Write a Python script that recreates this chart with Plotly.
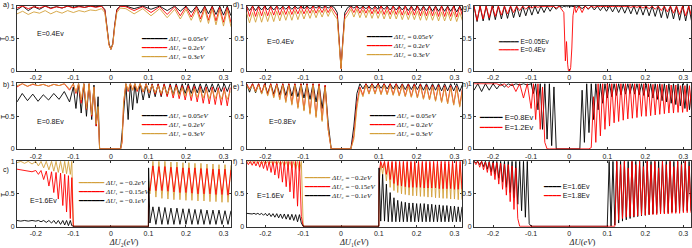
import plotly.graph_objects as go

W, H = 692, 248
BLACK, RED, GOLD = "#000000", "#ff0000", "#d4a03a"

X_RANGE = [-0.25, 0.32]
Y_RANGE = [-0.006, 1.006]
X_TICKS = [-0.2, -0.1, 0.0, 0.1, 0.2, 0.3]
X_TICK_TEXT = ["-0.2", "-0.1", "0", "0.1", "0.2", "0.3"]
Y_TICKS = [0.0, 0.5, 1.0]
Y_TICK_TEXT = ["0", "0.5", "1"]

# ---------------- panel a : E=0.4 eV, varying dU1 ----------------
A_X = [-0.25, -0.235, -0.22, -0.205, -0.19, -0.175, -0.16, -0.145, -0.13, -0.115, -0.10, -0.085, -0.07, -0.055, -0.04, -0.025,
       -0.016, -0.01, -0.005, 0.0, 0.005, 0.01, 0.016,
       0.025, 0.04, 0.062, 0.085, 0.107, 0.13, 0.15, 0.17, 0.185, 0.2, 0.214, 0.228, 0.239, 0.25, 0.26, 0.27, 0.28, 0.29, 0.30, 0.31, 0.32]
A_BLACK = [0.94, 1.0, 0.93, 0.99, 0.95, 1.0, 0.97, 0.99, 0.97, 1.0, 0.98, 1.0, 0.98, 1.0, 0.99, 1.0,
           0.95, 0.7, 0.42, 0.33, 0.42, 0.7, 0.95,
           1.0, 1.0, 0.96, 1.0, 0.95, 1.0, 0.93, 1.0, 0.92, 1.0, 0.9, 1.0, 0.89, 1.0, 0.88, 1.0, 0.87, 1.0, 0.86, 1.0, 0.85]
A_RED = [0.97, 1.0, 0.96, 0.99, 0.97, 1.0, 0.96, 0.99, 0.97, 1.0, 0.97, 0.99, 0.98, 1.0, 0.98, 1.0,
         0.93, 0.68, 0.4, 0.33, 0.4, 0.68, 0.93,
         1.0, 0.99, 0.93, 0.99, 0.9, 0.99, 0.87, 0.99, 0.85, 0.99, 0.83, 0.99, 0.8, 0.99, 0.78, 0.99, 0.77, 0.98, 0.75, 0.98, 0.74]
A_GOLD = [0.88, 0.92, 0.87, 0.91, 0.89, 0.93, 0.88, 0.92, 0.89, 0.93, 0.9, 0.93, 0.91, 0.94, 0.93, 0.96,
          0.9, 0.66, 0.4, 0.33, 0.4, 0.66, 0.9,
          0.97, 0.96, 0.88, 0.96, 0.85, 0.96, 0.82, 0.95, 0.8, 0.95, 0.78, 0.95, 0.75, 0.95, 0.73, 0.95, 0.71, 0.94, 0.69, 0.94, 0.68]

# ---------------- panel b : E=0.8 eV, varying dU1 ----------------
B_X = [-0.25, -0.236, -0.222, -0.208, -0.194, -0.18, -0.166, -0.152, -0.138, -0.124, -0.11,
       -0.1, -0.093, -0.086, -0.079, -0.072, -0.065, -0.058, -0.051, -0.045, -0.039, -0.034, -0.03,
       -0.026, 0.026,
       0.03, 0.034, 0.04, 0.046, 0.052, 0.058, 0.064, 0.07, 0.078, 0.086, 0.094, 0.102, 0.11, 0.118, 0.126, 0.134,
       0.142, 0.15, 0.158, 0.166, 0.174, 0.182, 0.19, 0.198, 0.206, 0.214, 0.222, 0.23, 0.238, 0.246, 0.254, 0.262,
       0.27, 0.278, 0.286, 0.294, 0.302, 0.31, 0.318]
B_BLACK = [0.72, 0.85, 0.74, 0.84, 0.73, 0.83, 0.75, 0.85, 0.76, 0.88, 0.72,
           0.95, 0.62, 1.0, 0.55, 1.0, 0.5, 1.0, 0.45, 0.98, 0.35, 0.8, 0.0,
           0.0, 0.0,
           0.25, 0.5, 1.0, 0.45, 1.0, 0.6, 1.0, 0.7, 1.0, 0.75, 1.0, 0.78, 1.0, 0.8, 1.0, 0.8, 1.0, 0.82, 1.0, 0.83,
           1.0, 0.84, 1.0, 0.85, 1.0, 0.85, 1.0, 0.86, 1.0, 0.86, 1.0, 0.87, 1.0, 0.87, 1.0, 0.88, 1.0, 0.88, 1.0]
B_RED = [0.95, 1.0, 0.96, 0.99, 0.97, 0.99, 0.96, 0.99, 0.97, 1.0, 0.9,
         1.0, 0.85, 1.0, 0.7, 1.0, 0.6, 1.0, 0.5, 0.95, 0.35, 0.6, 0.0,
         0.0, 0.0,
         0.1, 0.7, 1.0, 0.88, 1.0, 0.9, 1.0, 0.88, 1.0, 0.87, 1.0, 0.86, 0.99, 0.84, 0.99, 0.82, 0.99, 0.8, 0.98, 0.78,
         0.98, 0.77, 0.97, 0.75, 0.97, 0.74, 0.96, 0.72, 0.96, 0.7, 0.95, 0.69, 0.95, 0.68, 0.94, 0.67, 0.94, 0.66, 0.94]
B_GOLD = [0.97, 1.0, 0.96, 1.0, 0.97, 0.99, 0.96, 0.99, 0.97, 1.0, 0.92,
          1.0, 0.87, 1.0, 0.75, 1.0, 0.62, 1.0, 0.52, 0.95, 0.38, 0.65, 0.0,
          0.0, 0.0,
          0.12, 0.72, 1.0, 0.9, 1.0, 0.9, 1.0, 0.9, 1.0, 0.88, 0.99, 0.87, 0.98, 0.86, 0.97, 0.85, 0.96, 0.84, 0.95, 0.83,
          0.95, 0.82, 0.94, 0.81, 0.93, 0.8, 0.92, 0.79, 0.92, 0.78, 0.91, 0.77, 0.9, 0.77, 0.9, 0.76, 0.89, 0.76, 0.88]

# ---------------- panel c : E=1.6 eV, negative dU1 ----------------
C_X = [-0.25, -0.24, -0.23, -0.22, -0.21, -0.2, -0.193, -0.186, -0.179, -0.172, -0.165, -0.158,
       -0.152, -0.146, -0.14, -0.134, -0.128, -0.123, -0.118, -0.113, -0.108, -0.104, -0.1,
       0.1, 0.1005, 0.104, 0.112, 0.12, 0.128, 0.136, 0.144, 0.152, 0.16, 0.168, 0.176, 0.184, 0.192, 0.2, 0.208,
       0.216, 0.224, 0.232, 0.24, 0.248, 0.256, 0.264, 0.272, 0.28, 0.288, 0.296, 0.304, 0.312, 0.32]
C_GOLD = [0.98, 1.0, 0.97, 1.0, 0.96, 1.0, 0.93, 1.0, 0.9, 1.0, 0.87, 1.0, 0.85, 1.0, 0.83, 1.0, 0.82, 1.0, 0.81, 1.0, 0.8, 1.0, 0.0,
          0.0, 0.7, 0.5, 1.0, 0.45, 1.0, 0.43, 1.0, 0.42, 0.99, 0.41, 0.99, 0.41, 0.98, 0.4, 0.98, 0.4, 0.97, 0.39,
          0.97, 0.39, 0.96, 0.38, 0.96, 0.38, 0.95, 0.37, 0.95, 0.37, 0.94]
C_RED = [0.88, 0.87, 0.87, 0.86, 0.84, 0.86, 0.8, 0.86, 0.72, 0.85, 0.62, 0.84, 0.52, 0.83, 0.42, 0.82, 0.32, 0.8, 0.22, 0.78, 0.12, 0.75, 0.0,
         0.0, 0.6, 0.55, 0.93, 0.55, 0.92, 0.55, 0.92, 0.54, 0.91, 0.53, 0.91, 0.52, 0.9, 0.52, 0.9, 0.51, 0.9, 0.5,
         0.89, 0.5, 0.89, 0.5, 0.88, 0.49, 0.88, 0.49, 0.88, 0.48, 0.87]
C_BLACK = [0.09, 0.08, 0.09, 0.08, 0.09, 0.08, 0.09, 0.07, 0.09, 0.06, 0.09, 0.05, 0.09, 0.04, 0.09, 0.03, 0.09, 0.02, 0.09, 0.01, 0.09, 0.01, 0.0,
           0.0, 0.9, 0.05, 0.3, 0.03, 0.3, 0.03, 0.29, 0.03, 0.28, 0.03, 0.28, 0.03, 0.27, 0.03, 0.27, 0.03, 0.26, 0.03,
           0.26, 0.03, 0.25, 0.03, 0.25, 0.03, 0.25, 0.03, 0.24, 0.03, 0.24]

# ---------------- shared dense sampling grids ----------------
DENSE_L = [-0.25, -0.242, -0.234, -0.226, -0.218, -0.21, -0.202, -0.194, -0.186, -0.178, -0.17, -0.162, -0.154, -0.146, -0.138,
           -0.13, -0.122, -0.114, -0.106, -0.098, -0.09, -0.082, -0.074, -0.066, -0.058, -0.05, -0.042, -0.034, -0.026, -0.018]
DENSE_R = [0.018, 0.026, 0.034, 0.042, 0.05, 0.058, 0.066, 0.074, 0.082, 0.09, 0.098, 0.106, 0.114, 0.122, 0.13, 0.138, 0.146,
           0.154, 0.162, 0.17, 0.178, 0.186, 0.194, 0.202, 0.21, 0.218, 0.226, 0.234, 0.242, 0.25, 0.258, 0.266, 0.274, 0.282,
           0.29, 0.298, 0.306, 0.314, 0.322]
FINE_L = [-0.25, -0.245, -0.24, -0.235, -0.23, -0.225, -0.22, -0.215, -0.21, -0.205, -0.2, -0.195, -0.19, -0.185, -0.18, -0.175,
          -0.17, -0.165, -0.16, -0.155, -0.15, -0.145, -0.14, -0.135, -0.13, -0.125, -0.12, -0.115, -0.11, -0.105, -0.1]
FINE_R = [0.1, 0.105, 0.11, 0.115, 0.12, 0.125, 0.13, 0.135, 0.14, 0.145, 0.15, 0.155, 0.16, 0.165, 0.17, 0.175, 0.18, 0.185,
          0.19, 0.195, 0.2, 0.205, 0.21, 0.215, 0.22, 0.225, 0.23, 0.235, 0.24, 0.245, 0.25, 0.255, 0.26, 0.265, 0.27, 0.275,
          0.28, 0.285, 0.29, 0.295, 0.3, 0.305, 0.31, 0.315, 0.32]

# ---------------- panel d : E=0.4 eV, varying dU2 ----------------
D_MID = [-0.01, -0.004, 0.0, 0.004, 0.01]
D_X = DENSE_L + D_MID + DENSE_R
D_BLACK = [1.0, 0.93, 1.0, 0.93, 1.0, 0.94, 1.0, 0.94, 1.0, 0.94, 1.0, 0.95, 1.0, 0.95, 1.0, 0.95, 1.0, 0.96, 1.0, 0.96,
           1.0, 0.96, 1.0, 0.97, 1.0, 0.97, 1.0, 0.97, 1.0, 0.98,
           0.9, 0.4, 0.04, 0.4, 0.9,
           0.98, 1.0, 0.97, 1.0, 0.96, 1.0, 0.96, 1.0, 0.95, 1.0, 0.95, 1.0, 0.95, 1.0, 0.94, 1.0, 0.94, 1.0, 0.94, 1.0,
           0.93, 1.0, 0.93, 1.0, 0.93, 1.0, 0.93, 1.0, 0.92, 1.0, 0.92, 1.0, 0.92, 1.0, 0.92, 1.0, 0.91, 1.0, 0.91]
D_RED = [1.0, 0.84, 1.0, 0.84, 0.99, 0.85, 1.0, 0.85, 0.99, 0.86, 1.0, 0.86, 0.99, 0.87, 1.0, 0.87, 0.99, 0.88, 1.0, 0.88,
         0.99, 0.89, 1.0, 0.89, 0.99, 0.9, 1.0, 0.9, 0.99, 0.92,
         0.85, 0.38, 0.03, 0.38, 0.85,
         0.92, 0.99, 0.9, 1.0, 0.89, 0.99, 0.89, 1.0, 0.88, 0.99, 0.88, 1.0, 0.87, 0.99, 0.87, 1.0, 0.87, 0.99, 0.86, 1.0,
         0.86, 0.99, 0.86, 1.0, 0.85, 0.99, 0.85, 1.0, 0.85, 0.99, 0.84, 1.0, 0.84, 0.99, 0.84, 1.0, 0.83, 0.99, 0.83]
D_GOLD = [0.9, 0.74, 0.9, 0.75, 0.91, 0.75, 0.91, 0.76, 0.91, 0.76, 0.92, 0.77, 0.92, 0.78, 0.92, 0.78, 0.93, 0.79, 0.93, 0.8,
          0.93, 0.81, 0.94, 0.82, 0.94, 0.83, 0.95, 0.84, 0.95, 0.86,
          0.8, 0.35, 0.03, 0.35, 0.8,
          0.86, 0.95, 0.83, 0.95, 0.82, 0.94, 0.82, 0.94, 0.81, 0.94, 0.81, 0.93, 0.8, 0.93, 0.8, 0.93, 0.8, 0.93, 0.79, 0.92,
          0.79, 0.92, 0.79, 0.92, 0.78, 0.92, 0.78, 0.92, 0.78, 0.91, 0.77, 0.91, 0.77, 0.91, 0.77, 0.91, 0.76, 0.9, 0.76]

# ---------------- panel e : E=0.8 eV, varying dU2 ----------------
E_X = DENSE_L + DENSE_R
E_BLACK = [1.0, 0.87, 1.0, 0.86, 1.0, 0.85, 1.0, 0.85, 1.0, 0.84, 1.0, 0.83, 1.0, 0.82, 1.0, 0.81, 1.0, 0.8, 1.0, 0.78,
           1.0, 0.76, 1.0, 0.72, 0.99, 0.62, 0.97, 0.4, 0.0, 0.0,
           0.0, 0.0, 0.35, 0.85, 1.0, 0.92, 1.0, 0.93, 1.0, 0.93, 1.0, 0.93, 1.0, 0.92, 1.0, 0.92, 1.0, 0.92, 1.0, 0.91,
           1.0, 0.91, 1.0, 0.91, 1.0, 0.9, 1.0, 0.9, 1.0, 0.9, 1.0, 0.89, 1.0, 0.89, 1.0, 0.89, 1.0, 0.88, 1.0]
E_RED = [1.0, 0.92, 1.0, 0.89, 1.0, 0.86, 1.0, 0.83, 1.0, 0.8, 1.0, 0.77, 1.0, 0.73, 1.0, 0.69, 1.0, 0.64, 1.0, 0.6,
         1.0, 0.55, 1.0, 0.5, 1.0, 0.44, 0.98, 0.3, 0.0, 0.0,
         0.0, 0.0, 0.2, 0.7, 0.95, 0.82, 1.0, 0.85, 1.0, 0.85, 1.0, 0.84, 1.0, 0.84, 1.0, 0.83, 1.0, 0.82, 0.99, 0.81,
         0.99, 0.8, 0.99, 0.79, 0.99, 0.77, 0.98, 0.76, 0.98, 0.74, 0.98, 0.72, 0.97, 0.7, 0.97, 0.68, 0.96, 0.66, 0.96]
E_GOLD = [0.98, 0.9, 0.98, 0.87, 0.98, 0.84, 0.98, 0.81, 0.98, 0.78, 0.98, 0.75, 0.98, 0.71, 0.98, 0.67, 0.98, 0.62, 0.98, 0.58,
          0.98, 0.53, 0.98, 0.48, 0.97, 0.42, 0.95, 0.3, 0.0, 0.0,
          0.0, 0.0, 0.15, 0.62, 0.92, 0.8, 0.98, 0.84, 0.98, 0.84, 0.98, 0.83, 0.98, 0.83, 0.97, 0.82, 0.97, 0.81, 0.97, 0.8,
          0.96, 0.79, 0.96, 0.78, 0.96, 0.76, 0.95, 0.75, 0.95, 0.73, 0.95, 0.71, 0.94, 0.69, 0.94, 0.67, 0.94, 0.64, 0.93]

# ---------------- panel f : E=1.6 eV, negative dU2 ----------------
F_X = FINE_L + [0.1, 0.1005] + FINE_R[1:]
F_GOLD = [0.98, 1.0, 0.97, 1.0, 0.97, 1.0, 0.97, 1.0, 0.96, 1.0, 0.96, 1.0, 0.96, 1.0, 0.95, 1.0, 0.95, 1.0, 0.94, 1.0,
          0.93, 1.0, 0.92, 1.0, 0.9, 1.0, 0.88, 1.0, 0.85, 1.0, 0.0,
          0.0, 0.6, 0.98, 0.8, 0.98, 0.7, 0.98, 0.6, 0.98, 0.55, 0.98, 0.52, 0.98, 0.5, 0.98, 0.49, 0.98, 0.48, 0.98, 0.47,
          0.98, 0.47, 0.97, 0.46, 0.97, 0.46, 0.97, 0.45, 0.97, 0.45, 0.97, 0.44, 0.96, 0.44, 0.96, 0.43, 0.96, 0.43,
          0.96, 0.42, 0.96, 0.42, 0.95, 0.41, 0.95, 0.41]
F_RED = [1.0, 0.95, 1.0, 0.94, 1.0, 0.93, 1.0, 0.91, 1.0, 0.89, 1.0, 0.86, 1.0, 0.83, 1.0, 0.79, 1.0, 0.74, 1.0, 0.68,
         1.0, 0.61, 1.0, 0.53, 1.0, 0.43, 1.0, 0.31, 1.0, 0.15, 0.0,
         0.0, 0.8, 1.0, 0.9, 1.0, 0.8, 1.0, 0.72, 1.0, 0.66, 1.0, 0.63, 1.0, 0.62, 1.0, 0.61, 1.0, 0.6, 1.0, 0.6,
         1.0, 0.6, 1.0, 0.6, 1.0, 0.59, 1.0, 0.59, 1.0, 0.59, 1.0, 0.59, 1.0, 0.58, 1.0, 0.58, 1.0, 0.58, 1.0, 0.58,
         1.0, 0.57, 1.0, 0.57, 1.0, 0.57]
F_BLACK = [0.2, 0.195, 0.2, 0.19, 0.2, 0.185, 0.2, 0.18, 0.2, 0.17, 0.2, 0.16, 0.2, 0.15, 0.195, 0.14, 0.195, 0.13, 0.19, 0.12,
           0.19, 0.11, 0.185, 0.1, 0.185, 0.09, 0.18, 0.07, 0.18, 0.05, 0.0,
           0.0, 0.9, 0.08, 0.8, 0.08, 0.65, 0.07, 0.52, 0.07, 0.44, 0.07, 0.4, 0.07, 0.38, 0.07, 0.37, 0.07, 0.36, 0.07, 0.36,
           0.07, 0.35, 0.07, 0.35, 0.07, 0.35, 0.07, 0.34, 0.07, 0.34, 0.07, 0.33, 0.07, 0.33, 0.07, 0.32, 0.07, 0.32,
           0.07, 0.31, 0.07, 0.31, 0.07, 0.3, 0.07, 0.3]

# ---------------- panel g : E=0.05 / 0.4 eV ----------------
G_MID = [-0.014, -0.01, -0.007, -0.004, -0.002, 0.0, 0.002, 0.004, 0.007, 0.01, 0.014]
G_X = DENSE_L + G_MID + DENSE_R
G_BLACK = [1.0, 0.76, 1.0, 0.77, 1.0, 0.78, 1.0, 0.79, 1.0, 0.8, 1.0, 0.81, 1.0, 0.82, 1.0, 0.83, 1.0, 0.85, 1.0, 0.86,
           1.0, 0.88, 1.0, 0.9, 1.0, 0.92, 1.0, 0.95, 1.0, 0.98,
           1.0, 0.99, 1.0, 0.99, 1.0, 0.99, 1.0, 0.99, 1.0, 0.99, 1.0,
           0.98, 1.0, 0.96, 1.0, 0.95, 1.0, 0.94, 1.0, 0.93, 1.0, 0.92, 1.0, 0.91, 1.0, 0.9, 1.0, 0.89, 1.0, 0.88,
           1.0, 0.87, 1.0, 0.86, 1.0, 0.85, 1.0, 0.84, 1.0, 0.82, 1.0, 0.81, 1.0, 0.8, 1.0, 0.78, 1.0, 0.77, 1.0, 0.75]
G_RED = [1.0, 0.78, 1.0, 0.8, 1.0, 0.82, 1.0, 0.84, 1.0, 0.86, 1.0, 0.88, 1.0, 0.9, 1.0, 0.93, 1.0, 0.95, 1.0, 0.97,
         1.0, 0.98, 1.0, 0.99, 1.0, 0.99, 1.0, 0.97, 1.0, 0.93,
         0.9, 0.15, 0.45, 0.1, 0.0, 0.0, 0.0, 0.05, 0.35, 0.85, 1.0,
         0.9, 1.0, 0.9, 1.0, 0.96, 1.0, 0.98, 1.0, 0.99, 1.0, 0.99, 1.0, 0.99, 1.0, 0.99, 1.0, 0.99, 1.0, 0.98,
         1.0, 0.98, 1.0, 0.97, 1.0, 0.96, 1.0, 0.95, 1.0, 0.93, 1.0, 0.91, 1.0, 0.89, 1.0, 0.87, 1.0, 0.85, 1.0, 0.83]

# ---------------- panel h : E=0.8 / 1.2 eV ----------------
H_X = [-0.25, -0.24, -0.23, -0.22, -0.21, -0.2, -0.19, -0.18, -0.17, -0.16, -0.15, -0.14, -0.13, -0.12, -0.11, -0.1,
       -0.094, -0.088, -0.082, -0.076, -0.07, -0.064, -0.058, -0.052, -0.046, -0.04, -0.034, -0.028,
       -0.02, 0.02,
       0.028, 0.034, 0.04, 0.046, 0.052, 0.058, 0.064, 0.07, 0.076, 0.082, 0.088, 0.094, 0.1,
       0.106, 0.112, 0.118, 0.124, 0.13, 0.136, 0.142, 0.148, 0.154, 0.16, 0.166, 0.172, 0.178, 0.184, 0.19, 0.196,
       0.202, 0.208, 0.214, 0.22, 0.226, 0.232, 0.238, 0.244, 0.25, 0.256, 0.262, 0.268, 0.274, 0.28, 0.286, 0.292,
       0.298, 0.304, 0.31, 0.316, 0.322]
H_BLACK = [0.9, 1.0, 0.88, 1.0, 0.9, 1.0, 0.92, 1.0, 0.95, 1.0, 0.97, 1.0, 0.98, 1.0, 0.98, 1.0,
           0.85, 1.0, 0.6, 1.0, 0.3, 1.0, 0.15, 1.0, 0.05, 0.95, 0.0, 0.0,
           0.0, 0.0,
           0.0, 0.9, 0.1, 1.0, 0.25, 1.0, 0.45, 1.0, 0.6, 1.0, 0.7, 1.0, 0.78,
           1.0, 0.8, 1.0, 0.82, 1.0, 0.83, 1.0, 0.84, 1.0, 0.85, 1.0, 0.84, 1.0, 0.83, 1.0, 0.82, 1.0, 0.8, 1.0, 0.78,
           1.0, 0.76, 1.0, 0.74, 1.0, 0.72, 1.0, 0.7, 1.0, 0.68, 1.0, 0.66, 1.0, 0.62, 1.0, 0.6, 0.95]
H_RED = [1.0, 1.0, 1.0, 0.99, 1.0, 0.99, 1.0, 0.97, 1.0, 0.94, 1.0, 0.88, 1.0, 0.78, 1.0, 0.62,
         1.0, 0.45, 1.0, 0.3, 0.95, 0.1, 0.0, 0.0, 0.0, 0.0, 0.0, 0.0,
         0.0, 0.0,
         0.0, 0.0, 0.0, 0.0, 0.0, 0.02, 0.8, 0.1, 1.0, 0.2, 1.0, 0.3, 1.0,
         0.35, 1.0, 0.4, 1.0, 0.42, 1.0, 0.44, 1.0, 0.46, 1.0, 0.47, 1.0, 0.48, 1.0, 0.5, 1.0, 0.5, 1.0, 0.51, 0.99,
         0.52, 0.99, 0.53, 0.99, 0.54, 0.98, 0.55, 0.98, 0.55, 0.98, 0.56, 0.97, 0.56, 0.97, 0.57, 0.97, 0.57]

# ---------------- panel i : E=1.6 / 1.8 eV ----------------
I_X = FINE_L + FINE_R
I_BLACK = [1.0, 0.98, 1.0, 0.95, 1.0, 0.92, 1.0, 0.88, 1.0, 0.84, 1.0, 0.8, 1.0, 0.74, 1.0, 0.68, 1.0, 0.6, 1.0, 0.52,
           1.0, 0.44, 1.0, 0.34, 1.0, 0.24, 1.0, 0.14, 1.0, 0.04, 0.0,
           0.0, 1.0, 0.0, 1.0, 0.02, 1.0, 0.05, 1.0, 0.08, 1.0, 0.1, 1.0, 0.12, 1.0, 0.14, 1.0, 0.15, 1.0, 0.16, 1.0, 0.17,
           1.0, 0.18, 1.0, 0.19, 1.0, 0.2, 1.0, 0.2, 1.0, 0.21, 1.0, 0.21, 1.0, 0.22, 1.0, 0.22, 1.0, 0.23, 1.0, 0.23,
           1.0, 0.24, 1.0, 0.24]
I_RED = [1.0, 0.95, 1.0, 0.91, 1.0, 0.87, 0.99, 0.83, 0.99, 0.78, 0.98, 0.72, 0.98, 0.65, 0.97, 0.57, 0.96, 0.48, 0.95, 0.38,
         0.93, 0.26, 0.9, 0.12, 0.0, 0.0, 0.0, 0.0, 0.0, 0.0, 0.0,
         0.0, 0.0, 0.0, 0.0, 0.0, 1.0, 0.1, 0.95, 0.12, 1.0, 0.14, 0.9, 0.15, 1.0, 0.15, 0.95, 0.16, 1.0, 0.17, 0.92, 0.17,
         1.0, 0.18, 0.95, 0.18, 1.0, 0.18, 0.9, 0.19, 1.0, 0.19, 0.95, 0.19, 1.0, 0.2, 0.92, 0.2, 1.0, 0.2, 0.95, 0.21,
         1.0, 0.21, 0.93, 0.21]

# ---------------- labels ----------------
DU1 = "<i>ΔU</i>₁ = "
DU2 = "<i>ΔU</i>₂ = "
LEG_POS = ["0.05<i>eV</i>", "0.2<i>eV</i>", "0.3<i>eV</i>"]
LEG_NEG = ["−0.2<i>eV</i>", "−0.15<i>eV</i>", "−0.1<i>eV</i>"]

SERIF = "Liberation Serif, Times New Roman, serif"
SANS = "Liberation Sans, Arial"
# (label, subplot, x, [(y, colour, legend text)], E text, E pos px, legend (left px, centre px), n sample chars, font, size)
PANELS = [
    ("a", 1, A_X, [(A_BLACK, BLACK, DU1 + LEG_POS[0]), (A_RED, RED, DU1 + LEG_POS[1]), (A_GOLD, GOLD, DU1 + LEG_POS[2])],
     "E=0.4Ev", (35, 33.5), (140, 47.5), 6, SERIF, 7),
    ("b", 2, B_X, [(B_BLACK, BLACK, DU1 + LEG_POS[0]), (B_RED, RED, DU1 + LEG_POS[1]), (B_GOLD, GOLD, DU1 + LEG_POS[2])],
     "E=0.8Ev", (35, 121.5), (140, 125), 6, SERIF, 7),
    ("c", 3, C_X, [(C_GOLD, GOLD, DU1 + LEG_NEG[0]), (C_RED, RED, DU1 + LEG_NEG[1]), (C_BLACK, BLACK, DU1 + LEG_NEG[2])],
     "E=1.6Ev", (28, 200), (77, 192), 6, SERIF, 7),
    ("d", 4, D_X, [(D_BLACK, BLACK, DU2 + LEG_POS[0]), (D_RED, RED, DU2 + LEG_POS[1]), (D_GOLD, GOLD, DU2 + LEG_POS[2])],
     "E=0.4Ev", (265, 41.5), (365, 46.3), 6, SERIF, 7),
    ("e", 5, E_X, [(E_BLACK, BLACK, DU2 + LEG_POS[0]), (E_RED, RED, DU2 + LEG_POS[1]), (E_GOLD, GOLD, DU2 + LEG_POS[2])],
     "E=0.8Ev", (267, 121.5), (368, 125), 6, SERIF, 7),
    ("f", 6, F_X, [(F_GOLD, GOLD, DU2 + LEG_NEG[0]), (F_RED, RED, DU2 + LEG_NEG[1]), (F_BLACK, BLACK, DU2 + LEG_NEG[2])],
     "E=1.6Ev", (255, 195), (303, 186.8), 6, SERIF, 7),
    ("g", 7, G_X, [(G_BLACK, BLACK, "E=0.05Ev"), (G_RED, RED, "E=0.4Ev")],
     None, None, (497, 45.5), 5, SANS, 6.5),
    ("h", 8, H_X, [(H_BLACK, BLACK, "E=0.8Ev"), (H_RED, RED, "E=1.2Ev")],
     None, None, (478, 122.7), 5, SANS, 7.5),
    ("i", 9, I_X, [(I_BLACK, BLACK, "E=1.6Ev"), (I_RED, RED, "E=1.8Ev")],
     None, None, (542, 191.7), 4, SANS, 7),
]

COL_PX = [(17, 231), (246.5, 462), (474, 691)]
ROW_PX = [(5.7, 71), (83.3, 149.3), (161, 226.7)]
X_TITLES = ["<i>ΔU</i>₂(<i>eV</i>)", "<i>ΔU</i>₁(<i>eV</i>)", "<i>ΔU</i>(<i>eV</i>)"]
PANEL_LABEL_PX = {"a": (1, 5), "b": (1, 85), "c": (1, 170), "d": (231, 5), "e": (231, 87),
                  "f": (231, 162), "g": (460.5, 8), "h": (460, 85), "i": (460.5, 162)}


def px(x, y):
    return x / W, 1 - y / H


fig = go.Figure()
annotations = []
layout = {}

for key, k, xs, series, etext, epos, lpos, nsample, lfont, lsize in PANELS:
    col, row = (k - 1) // 3, (k - 1) % 3
    ax = "" if k == 1 else str(k)
    x0, x1 = COL_PX[col]
    y0, y1 = ROW_PX[row]
    xaxis = dict(
        domain=[x0 / W, x1 / W], range=X_RANGE, anchor="y" + ax, tickvals=X_TICKS, ticktext=X_TICK_TEXT,
        ticks="inside", ticklen=2, tickwidth=0.6, tickcolor="#333", showline=True, linecolor="#333", linewidth=0.7,
        mirror="ticks", showgrid=False, zeroline=False, layer="below traces", automargin=False,
        tickfont=dict(family=SANS, size=7, color="#222"),
    )
    if row == 2:
        xaxis["title"] = dict(text=X_TITLES[col], standoff=1, font=dict(family=SERIF, size=8.5, color="#222"))
    layout["xaxis" + ax] = xaxis
    layout["yaxis" + ax] = dict(
        domain=[1 - y1 / H, 1 - y0 / H], range=Y_RANGE, anchor="x" + ax, tickvals=Y_TICKS, ticktext=Y_TICK_TEXT,
        ticks="inside", ticklen=2, tickwidth=0.6, tickcolor="#333", showline=True, linecolor="#333", linewidth=0.7,
        mirror="ticks", showgrid=False, zeroline=False, layer="below traces", automargin=False,
        tickfont=dict(family=SANS, size=7, color="#222"),
    )
    for ys, colr, lab in series:
        fig.add_trace(go.Scatter(x=xs, y=ys, mode="lines", name=lab, showlegend=False, hoverinfo="skip",
                                 line=dict(color=colr, width=0.9), xaxis="x" + ax, yaxis="y" + ax))
    # one legend block per panel
    rows = [f"<span style='color:{colr};font-family:DejaVu Sans;font-size:{lsize}px'>{'━' * nsample}</span> {lab}"
            for ys, colr, lab in series]
    lx, ly = px(*lpos)
    annotations.append(dict(
        x=lx, y=ly, xref="paper", yref="paper", xanchor="left", yanchor="middle", align="left", showarrow=False,
        text="<br>".join(rows), font=dict(family=lfont, size=lsize, color="#111"), borderpad=0))
    if etext:
        ex, ey = px(*epos)
        annotations.append(dict(x=ex, y=ey, xref="paper", yref="paper", xanchor="left", yanchor="middle",
                                showarrow=False, text=etext, font=dict(family=SANS, size=7, color="#111")))
    lx_, ly_ = px(*PANEL_LABEL_PX[key])
    annotations.append(dict(x=lx_, y=ly_, xref="paper", yref="paper", xanchor="left", yanchor="middle",
                            showarrow=False, text=key + ")", font=dict(family=SANS, size=7, color="#111")))

for ty in (38, 116, 194):
    tx, tyy = px(3, ty)
    annotations.append(dict(x=tx, y=tyy, xref="paper", yref="paper", xanchor="center", yanchor="middle",
                            showarrow=False, text="T", textangle=-90, font=dict(family=SANS, size=7, color="#111")))

fig.update_layout(width=W, height=H, margin=dict(l=0, r=0, t=0, b=0), showlegend=False,
                  plot_bgcolor="white", paper_bgcolor="white", annotations=annotations, **layout)

fig.write_html("out.html", config={"displayModeBar": False},
               post_script="document.body.style.margin='0';document.body.style.overflow='hidden';")
